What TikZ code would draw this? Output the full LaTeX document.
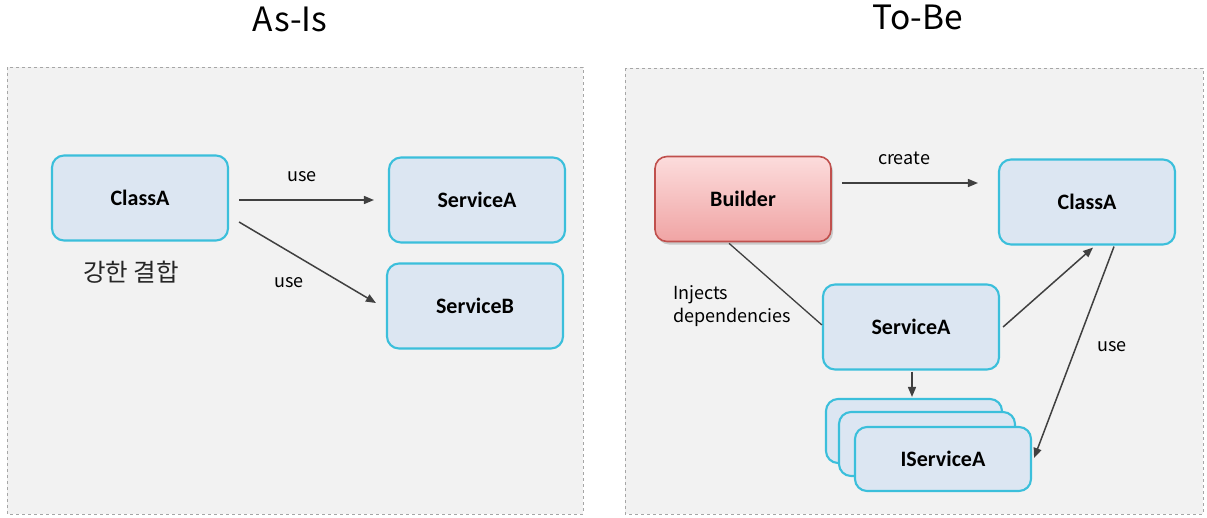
\documentclass[tikz,border=0pt]{standalone}
\usepackage{fontspec}
\newfontfamily\kfont{Noto Sans CJK KR}
\newfontfamily\bfont{Carlito}[BoldFont=Carlito Bold]
\usetikzlibrary{arrows.meta,calc,shadows}
\definecolor{panelfill}{HTML}{F2F2F2}
\definecolor{panelline}{HTML}{A6A6A6}
\definecolor{boxfill}{HTML}{DCE6F2}
\definecolor{boxline}{HTML}{3BBFDB}
\definecolor{redtop}{HTML}{FCDCDC}
\definecolor{redbot}{HTML}{F0A4A4}
\definecolor{redline}{HTML}{C0504D}
\definecolor{arrowc}{HTML}{404040}
\tikzset{
  panel/.style={draw=panelline, fill=panelfill, dashed, line width=0.7pt},
  bluebox/.style={draw=boxline, fill=boxfill, line width=2.1pt, rounded corners=12pt,
    minimum width=176pt, minimum height=85pt, inner sep=0pt,
    font=\bfont\bfseries\fontsize{22}{26}\selectfont, text=black},
  stackbox/.style={bluebox, minimum width=176pt, minimum height=64pt},
  redbox/.style={draw=redline, line width=1.6pt, rounded corners=12pt,
    top color=redtop, bottom color=redbot,
    minimum width=176pt, minimum height=85pt, inner sep=0pt,
    drop shadow={shadow xshift=2pt, shadow yshift=-3pt, opacity=0.35},
    font=\bfont\bfseries\fontsize{22}{26}\selectfont, text=black},
  conn/.style={draw=arrowc, line width=1.5pt, -{Triangle[length=10pt,width=8pt]}},
  plainconn/.style={draw=arrowc, line width=1.3pt},
  lbl/.style={font=\kfont\fontsize{18}{23}\selectfont, text=black, inner sep=0pt},
  ttl/.style={font=\kfont\fontsize{33.5}{38}\selectfont, text=black, inner sep=0pt},
}
\begin{document}
\begin{tikzpicture}[x=1pt,y=-1pt]
\useasboundingbox (0,0) rectangle (1207,517);
% titles
\node[ttl] (t1) at (290,19) {As-Is};
\node[ttl] (t2) at (918,17) {To-Be};
% panels
\draw[panel] (7,67) rectangle (583,514);
\draw[panel] (625,68) rectangle (1203,514);
% left
\node[bluebox] (ca) at (140,198) {ClassA};
\node[bluebox] (sa) at (477,200) {ServiceA};
\node[bluebox] (sb) at (475,306) {ServiceB};
\node[font=\kfont\fontsize{24.5}{28}\selectfont, text=black!85, inner sep=0pt] (kr) at (131,272) {강한 결합};
\draw[conn] ($(ca.east)+(10,2)$) -- ($(sa.west)+(-14,0)$);
\draw[conn] ($(ca.east)+(10,24)$) -- ($(sb.west)+(-10,-3)$);
\node[lbl] (u1) at (302,177) {use};
\node[lbl] (u2) at (289,283) {use};
% right
\node[redbox] (bd) at (743,199) {Builder};
\node[bluebox] (cb) at (1087,202) {ClassA};
\node[bluebox] (sc) at (911,327) {ServiceA};
\node[stackbox] (i1) at (914,431) {};
\node[stackbox] (i2) at (927,444) {};
\node[stackbox] (i3) at (943,459) {IServiceA};
\draw[conn] ($(bd.east)+(10,-16)$) -- ($(cb.west)+(-20,-19)$);
\node[lbl] (cr) at (904,158) {create};
\draw[plainconn] ($(bd.south)+(-14,1)$) -- ($(sc.west)+(0,-2)$);
\node[lbl, align=left, anchor=north west] (inj) at (673,285) {Injects\\dependencies};
\draw[conn] ($(sc.east)+(3,0)$) -- ($(cb.south)+(6,2)$);
\draw[conn] ($(cb.south)+(27,1)$) -- ($(i3.east)+(2,-1)$);
\node[lbl] (u3) at (1112,347) {use};
\draw[conn] ($(sc.south)+(1,1)$) -- ($(i1.north)+(-2,-1)$);
\end{tikzpicture}
\end{document}
